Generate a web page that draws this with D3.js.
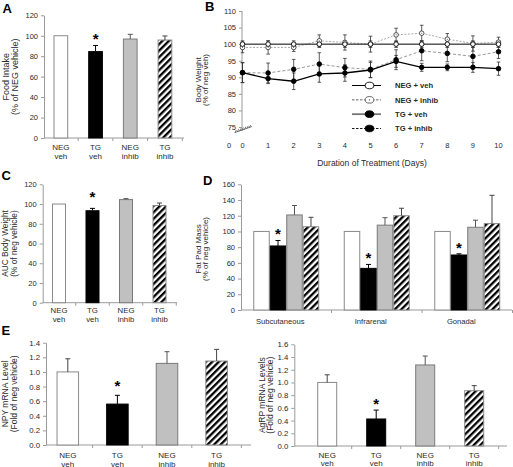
<!DOCTYPE html>
<html><head><meta charset="utf-8">
<script src="https://cdn.jsdelivr.net/npm/d3@7"></script>
<style>body{margin:0;background:#fff}svg{display:block}</style>
</head><body><svg id="c" width="513" height="467"></svg>
<script>
// ---------------- DATA ----------------
const catTop = ["NEG", "TG", "NEG", "TG"];
const catBottom = ["veh", "veh", "inhib", "inhib"];

// A: Food intake (% of NEG vehicle)
const foodIntake = [100, 84.5, 96.8, 95.8];
const foodIntakeErr = [0, 6, 4.6, 4];
const foodSig = [false, true, false, false];
const ticksA = [0, 20, 40, 60, 80, 100, 120];

// B: body weight (% of neg veh) over days
const days = [0, 1, 2, 3, 4, 5, 6, 7, 8, 9, 10];
const bwNegVeh = [100, 100, 100, 100, 100, 100, 100, 100, 100, 100, 100];
const bwNegVehErr = [1, 1, 1, 1, 1, 1, 1, 1, 1, 1, 1];
const bwNegInhib = [99, 99, 99, 101, 100.5, 100, 102.8, 103.3, 101.5, 100.2, 100.6];
const bwNegInhibErr = [1.6, 2, 1.2, 1.8, 2.3, 2.4, 2, 2.4, 1.7, 2.3, 1.5];
const bwTgVeh = [91.4, 89.6, 88.8, 91, 91.3, 92.2, 94.8, 93, 93, 93, 92.6];
const bwTgVehErr = [3, 1.5, 2.5, 2.5, 2.5, 2.3, 1.8, 1.2, 1, 1.5, 2];
const bwTgInhib = [91.4, 91.3, 92.4, 94, 92.9, 92.4, 95.3, 98, 97.2, 96.3, 97.7];
const bwTgInhibErr = [3, 3, 3, 3.4, 2.8, 2.5, 3, 3, 2.5, 2.8, 2];
const ticksB = [75, 80, 85, 90, 95, 100, 105, 110];
const legendLabels = ["NEG + veh", "NEG + inhib", "TG + veh", "TG + inhib"];

// C: AUC body weight
const aucBW = [100, 93.2, 104.5, 98.5];
const aucBWErr = [0, 2.4, 1, 2.5];
const aucSig = [false, true, false, false];
const ticksC = [0, 20, 40, 60, 80, 100, 120];

// D: fat pad mass
const fatDepots = ["Subcutaneous", "Infrarenal", "Gonadal"];
const fatNegVeh = [100, 100, 100];
const fatNegVehErr = [0, 0, 0];
const fatTgVeh = [81.5, 53, 70];
const fatTgVehErr = [7, 5, 1.5];
const fatNegInhib = [121, 108, 105.3];
const fatNegInhibErr = [12, 9.5, 9];
const fatTgInhib = [106, 120, 110];
const fatTgInhibErr = [12, 9.5, 36];
const fatSig = [true, true, true];
const ticksD = [0, 20, 40, 60, 80, 100, 120, 140, 160];

// E: NPY & AgRP mRNA
const npyLevel = [1.0, 0.56, 1.117, 1.149];
const npyErr = [0.18, 0.12, 0.16, 0.16];
const npySig = [false, true, false, false];
const ticksNPY = [0, 0.2, 0.4, 0.6, 0.8, 1.0, 1.2, 1.4];
const agrpLevel = [1.0, 0.425, 1.275, 0.87];
const agrpErr = [0.12, 0.14, 0.14, 0.08];
const agrpSig = [false, true, false, false];
const ticksAgRP = [0, 0.2, 0.4, 0.6, 0.8, 1.0, 1.2, 1.4, 1.6];

// ---------------- DRAWING ----------------
const FONT = '"Liberation Sans", Arial, Helvetica, sans-serif';
const svg = d3.select("#c").style("font-family", FONT);
const defs = svg.append("defs");
function hatch(id, w) {
  const p = defs.append("pattern").attr("id", id).attr("patternUnits", "userSpaceOnUse")
    .attr("width", w).attr("height", w).attr("patternTransform", "rotate(45)");
  p.append("rect").attr("width", w).attr("height", w).attr("fill", "#fff");
  p.append("rect").attr("width", w / 2).attr("height", w).attr("fill", "#000");
}
hatch("hatch", 4.6);
const fills = ["#fff", "#000", "#c0c0c0", "url(#hatch)"];
const strokes = ["#8a8a8a", "#000", "#7a7a7a", "#8a8a8a"];
const errCol = ["#444", "#000", "#555", "#444"];
const AX = "#9a9a9a", TXT = "#2a2a2a";

function yAxis(y, x0, ticks, fmt, fs) {
  const g = svg.append("g").attr("transform", `translate(${x0},0)`)
    .call(d3.axisLeft(y).tickValues(ticks).tickFormat(fmt).tickSize(3).tickSizeOuter(0).tickPadding(3));
  g.select(".domain").attr("stroke", AX);
  g.selectAll(".tick line").attr("stroke", AX);
  g.selectAll(".tick text").attr("fill", TXT).style("font-size", fs + "px").style("font-family", FONT);
  return g;
}
function xBase(x0, x1, y0, bounds) {
  svg.append("line").attr("x1", x0).attr("x2", x1).attr("y1", y0).attr("y2", y0).attr("stroke", AX);
  bounds.forEach(b => svg.append("line").attr("x1", b).attr("x2", b).attr("y1", y0).attr("y2", y0 + 3).attr("stroke", AX));
}
function yTitle(lines, xs, cy, fs) {
  lines.forEach((t, i) => svg.append("text").attr("transform", `translate(${xs[i]},${cy}) rotate(-90)`)
    .attr("text-anchor", "middle").style("font-size", fs + "px").attr("fill", TXT).text(t));
}
function letter(t, x, y) {
  svg.append("text").attr("x", x).attr("y", y).style("font-size", "13px").style("font-weight", "bold").attr("fill", "#000").text(t);
}
function bar(xl, w, y, v, e, i, sig, starGap) {
  const y0 = y.range()[0];
  svg.append("rect").attr("x", xl + 0.5).attr("y", y(v)).attr("width", w - 1).attr("height", y0 - y(v))
    .attr("fill", fills[i]).attr("stroke", strokes[i]).attr("stroke-width", 1);
  if (e > 0) {
    const cx = xl + w / 2;
    svg.append("line").attr("x1", cx).attr("x2", cx).attr("y1", y(v)).attr("y2", y(v + e)).attr("stroke", errCol[i]);
    svg.append("line").attr("x1", cx - 2.5).attr("x2", cx + 2.5).attr("y1", y(v + e)).attr("y2", y(v + e)).attr("stroke", errCol[i]);
  }
  if (sig) {
    svg.append("text").attr("x", xl + w / 2).attr("y", y(v + e) - starGap).attr("text-anchor", "middle")
      .style("font-size", "15px").style("font-weight", "bold").attr("fill", "#000").text("*");
  }
}
function catLabels(x, ys, fs) {
  catTop.forEach((t, i) => {
    const cx = x(t + i) + x.bandwidth() / 2;
    svg.append("text").attr("x", cx).attr("y", ys[0]).attr("text-anchor", "middle").style("font-size", fs + "px").attr("fill", TXT).text(t);
    svg.append("text").attr("x", cx).attr("y", ys[1]).attr("text-anchor", "middle").style("font-size", fs + "px").attr("fill", TXT).text(catBottom[i]);
  });
}
function simpleBars(cfg) {
  const keys = catTop.map((t, i) => t + i);
  const x = d3.scaleBand().domain(keys).range(cfg.xr).paddingInner(cfg.pad).paddingOuter(cfg.pad / 2);
  const y = d3.scaleLinear().domain(cfg.yd).range(cfg.yr);
  yAxis(y, cfg.axisX, cfg.ticks, cfg.fmt, cfg.tickFs);
  const bounds = keys.map((k, i) => cfg.xr[0] + (i + 1) * x.step());
  xBase(cfg.axisX, cfg.axisEnd, cfg.yr[0], bounds);
  cfg.vals.forEach((v, i) => bar(x(keys[i]), x.bandwidth(), y, v, cfg.errs[i], i, cfg.sig[i], cfg.starGap));
  catLabels(x, cfg.labY, cfg.catFs);
  yTitle(cfg.title, cfg.titleX, (cfg.yr[0] + cfg.yr[1]) / 2 + (cfg.titleDy || 0), cfg.titleFs);
}

// Panel A
simpleBars({ xr: [43.5, 182.3], pad: 0.576, yd: [0, 120], yr: [138, 15.3], axisX: 44, axisEnd: 184,
  ticks: ticksA, fmt: d3.format("d"), tickFs: 7.5, vals: foodIntake, errs: foodIntakeErr, sig: foodSig, starGap: 1,
  labY: [150, 158.5], catFs: 8, title: ["Food Intake", "(% of NEG vehicle)"], titleX: [8.5, 17.5], titleFs: 9 });
letter("A", 2.5, 12.7);

// Panel C
simpleBars({ xr: [42.25, 176.25], pad: 0.582, yd: [0, 120], yr: [302.7, 184.3], axisX: 42.7, axisEnd: 177,
  ticks: ticksC, fmt: d3.format("d"), tickFs: 7.5, vals: aucBW, errs: aucBWErr, sig: aucSig, starGap: 6,
  labY: [313, 321.6], catFs: 7.8, title: ["AUC Body Weight", "(% of neg vehicle)"], titleX: [8.2, 16.5], titleFs: 8.3 });
letter("C", 1.5, 180);

// Panel E left
simpleBars({ xr: [43, 241.4], pad: 0.546, yd: [0, 1.4], yr: [445, 342.7], axisX: 46, axisEnd: 251,
  ticks: ticksNPY, fmt: d3.format(".1f"), tickFs: 7.8, vals: npyLevel, errs: npyErr, sig: npySig, starGap: 4,
  labY: [458, 466.5], catFs: 8, title: ["NPY mRNA Level", "(Fold of neg vehicle)"], titleX: [7.5, 17], titleFs: 8.5 });
letter("E", 1.5, 335);

// Panel E right
simpleBars({ xr: [302.7, 498.7], pad: 0.592, yd: [0, 1.6], yr: [446, 344.3], axisX: 294.3, axisEnd: 507,
  ticks: ticksAgRP, fmt: d3.format(".1f"), tickFs: 7.8, vals: agrpLevel, errs: agrpErr, sig: agrpSig, starGap: 1,
  labY: [457.5, 466], catFs: 8, title: ["AgRP mRNA Levels", "(Fold of neg vehicle)"], titleX: [264.5, 273], titleFs: 8.5, titleDy: 0 });

// Panel D
(function () {
  const xD = d3.scaleBand().domain(fatDepots).range([241, 512.5]).paddingInner(0.271).paddingOuter(0.1355);
  const series = [fatNegVeh, fatTgVeh, fatNegInhib, fatTgInhib];
  const errs = [fatNegVehErr, fatTgVehErr, fatNegInhibErr, fatTgInhibErr];
  const xi = d3.scaleBand().domain([0, 1, 2, 3]).range([0, xD.bandwidth()]);
  const y = d3.scaleLinear().domain([0, 160]).range([310, 184.3]);
  yAxis(y, 241, ticksD, d3.format("d"), 7.5);
  xBase(241, 512, 310, fatDepots.map((d, i) => 241 + (i + 1) * xD.step()));
  fatDepots.forEach((d, g) => {
    series.forEach((s, i) => bar(xD(d) + xi(i), xi.bandwidth(), y, s[g], errs[i][g], i, i === 1 && fatSig[g], 1));
    svg.append("text").attr("x", xD(d) + xD.bandwidth() / 2 - 6).attr("y", 324).attr("text-anchor", "middle")
      .style("font-size", "7.6px").attr("fill", TXT).text(d);
  });
  yTitle(["Fat Pad Mass", "(% of neg vehicle)"], [200.8, 207.5], 249, 8);
  letter("D", 203, 185);
})();

// Panel B
(function () {
  const x = d3.scaleLinear().domain([0, 10]).range([242.5, 498.5]);
  const y = d3.scaleLinear().domain([75, 110]).range([127, 11]);
  const g = yAxis(y, 242, ticksB, d3.format("d"), 7.5);
  g.select(".domain").attr("d", `M0,${y(110)}V131`);
  // axis break mark
  const br = svg.append("g").attr("stroke", "#555").attr("stroke-width", 0.8);
  for (let k = 0; k < 7; k++) {
    const bx = 235.5 + k * 2.4, by = 131.5 - k * 0.85;
    br.append("line").attr("x1", bx - 0.8).attr("y1", by + 1.4).attr("x2", bx + 0.8).attr("y2", by - 1.4);
  }
  br.append("line").attr("x1", 235).attr("y1", 132.5).attr("x2", 252).attr("y2", 126.5);
  svg.append("text").attr("x", 229).attr("y", 148).attr("text-anchor", "middle").style("font-size", "7.5px").attr("fill", TXT).text("0");
  days.forEach(d => svg.append("text").attr("x", x(d)).attr("y", 148).attr("text-anchor", "middle")
    .style("font-size", "7.5px").attr("fill", TXT).text(d));
  svg.append("text").attr("x", 372).attr("y", 166).attr("text-anchor", "middle").style("font-size", "8.5px").attr("fill", TXT)
    .text("Duration of Treatment (Days)");
  yTitle(["Body Weight", "(% of neg veh)"], [200.8, 207.8], 80, 8);
  letter("B", 205, 10.5);

  const series = [
    { v: bwNegVeh, e: bwNegVehErr, line: "#000", lw: 1, dash: null, mfill: "#fff", mstroke: "#000", dot: false },
    { v: bwNegInhib, e: bwNegInhibErr, line: "#aaa", lw: 1, dash: "2,1.5", mfill: "#fff", mstroke: "#444", dot: true },
    { v: bwTgVeh, e: bwTgVehErr, line: "#000", lw: 1.3, dash: null, mfill: "#000", mstroke: "#000", dot: false },
    { v: bwTgInhib, e: bwTgInhibErr, line: "#999", lw: 1, dash: "3,2", mfill: "#000", mstroke: "#000", dot: false }
  ];
  // error bars
  series.forEach(s => {
    days.forEach((d, i) => {
      const cx = x(d);
      svg.append("line").attr("x1", cx).attr("x2", cx).attr("y1", y(s.v[i] - s.e[i])).attr("y2", y(s.v[i] + s.e[i])).attr("stroke", "#333").attr("stroke-width", 0.8);
      [s.v[i] - s.e[i], s.v[i] + s.e[i]].forEach(t => svg.append("line").attr("x1", cx - 1.8).attr("x2", cx + 1.8)
        .attr("y1", y(t)).attr("y2", y(t)).attr("stroke", "#333").attr("stroke-width", 0.8));
    });
  });
  const lineGen = d3.line().x((d, i) => x(days[i])).y(d => y(d));
  [1, 3, 0, 2].forEach(k => {
    const s = series[k];
    svg.append("path").attr("d", lineGen(s.v)).attr("fill", "none").attr("stroke", s.line).attr("stroke-width", s.lw)
      .attr("stroke-dasharray", s.dash);
  });
  [1, 3, 0, 2].forEach(k => {
    const s = series[k];
    s.v.forEach((v, i) => {
      svg.append("circle").attr("cx", x(days[i])).attr("cy", y(v)).attr("r", 2.3).attr("fill", s.mfill).attr("stroke", s.mstroke).attr("stroke-width", 0.9);
      if (s.dot) svg.append("circle").attr("cx", x(days[i])).attr("cy", y(v)).attr("r", 0.5).attr("fill", "#444");
    });
  });
  // legend
  const legStyle = [
    { line: "#000", lw: 1, dash: null, fill: "#fff", stroke: "#000", dot: false },
    { line: "#555", lw: 0.9, dash: "2.5,1.5", fill: "#fff", stroke: "#555", dot: true },
    { line: "#777", lw: 1.8, dash: null, fill: "#000", stroke: "#000", dot: false },
    { line: "#000", lw: 0.9, dash: "2.5,1.5", fill: "#000", stroke: "#000", dot: false }
  ];
  const ly = d3.scalePoint().domain(legendLabels).range([85.5, 128.5]);
  legendLabels.forEach((t, i) => {
    const st = legStyle[i], yy = ly(t);
    svg.append("line").attr("x1", 352).attr("x2", 381).attr("y1", yy).attr("y2", yy).attr("stroke", st.line)
      .attr("stroke-width", st.lw).attr("stroke-dasharray", st.dash);
    svg.append("ellipse").attr("cx", 369.5).attr("cy", yy).attr("rx", 4.3).attr("ry", 3.3).attr("fill", st.fill).attr("stroke", st.stroke).attr("stroke-width", 0.9);
    if (st.dot) svg.append("circle").attr("cx", 369.5).attr("cy", yy).attr("r", 0.7).attr("fill", "#444");
    svg.append("text").attr("x", 395).attr("y", yy + 2.8).style("font-size", "7.6px").style("font-weight", "bold").attr("fill", TXT).text(t);
  });
})();
</script></body></html>
